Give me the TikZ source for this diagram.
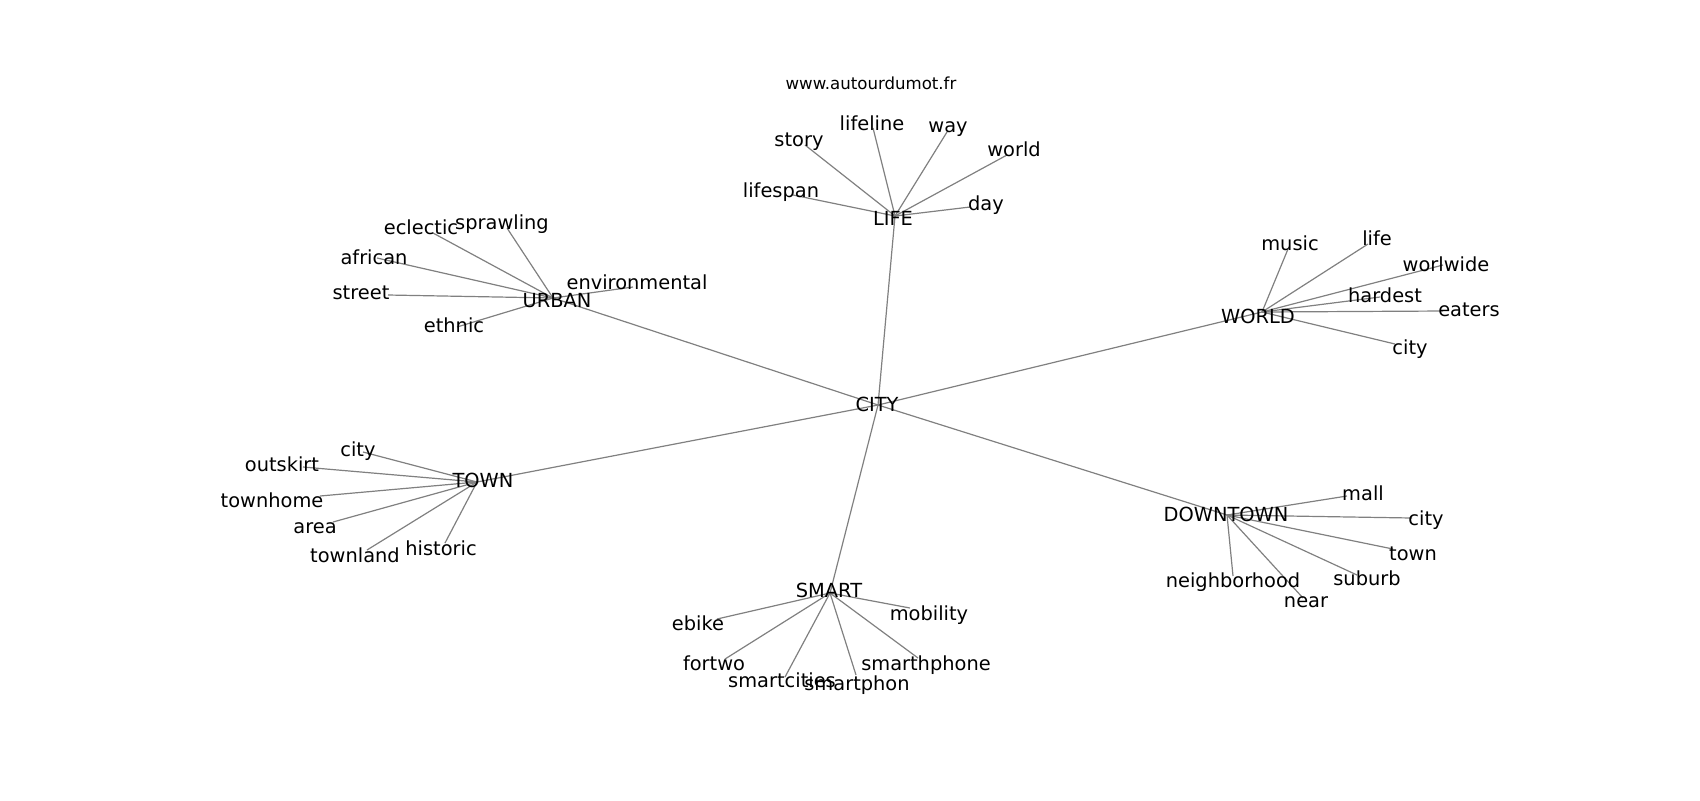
\documentclass[tikz,border=0pt]{standalone}
\usepackage{fontspec}
\setmainfont{DejaVu Sans}
\tikzset{
  link/.style={draw=black!50, line width=0.6pt},
  word/.style={inner sep=0pt, font=\fontsize{9.7}{11}\selectfont, text height=7.1pt, text depth=0pt},
  hub/.style={word},
  credit/.style={inner sep=0pt, font=\fontsize{8.3}{10}\selectfont, text height=6.1pt, text depth=0pt}
}
\begin{document}
\begin{tikzpicture}[x=0.5pt,y=0.5pt,yscale=-1,xscale=1]
  \useasboundingbox (0,0) rectangle (1700,800);

  %Hubs
  \coordinate (city) at (878,405);
  \coordinate (life) at (895,216);
  \coordinate (urban) at (553,298);
  \coordinate (world) at (1262,312);
  \coordinate (town) at (477,482);
  \coordinate (smart) at (830,593);
  \coordinate (downtown) at (1227,515);

  %Leaves of LIFE
  \coordinate (life-story) at (805,145);
  \coordinate (life-lifeline) at (873,128);
  \coordinate (life-way) at (947,132);
  \coordinate (life-world) at (1007,155);
  \coordinate (life-lifespan) at (793,195);
  \coordinate (life-day) at (970,207);
  %Leaves of URBAN
  \coordinate (urban-eclectic) at (433,233);
  \coordinate (urban-sprawling) at (507,228);
  \coordinate (urban-african) at (377,258);
  \coordinate (urban-street) at (388,295);
  \coordinate (urban-environmental) at (633,287);
  \coordinate (urban-ethnic) at (457,327);
  %Leaves of TOWN
  \coordinate (town-city) at (363,452);
  \coordinate (town-outskirt) at (303,467);
  \coordinate (town-townhome) at (320,496);
  \coordinate (town-area) at (333,522);
  \coordinate (town-townland) at (367,550);
  \coordinate (town-historic) at (445,543);
  %Leaves of SMART
  \coordinate (smart-ebike) at (717,619);
  \coordinate (smart-fortwo) at (725,659);
  \coordinate (smart-smartcities) at (785,677);
  \coordinate (smart-smartphon) at (856,675);
  \coordinate (smart-smarthphone) at (918,658);
  \coordinate (smart-mobility) at (910,608);
  %Leaves of DOWNTOWN
  \coordinate (downtown-mall) at (1347,496);
  \coordinate (downtown-city) at (1412,518);
  \coordinate (downtown-town) at (1393,549);
  \coordinate (downtown-suburb) at (1357,575);
  \coordinate (downtown-near) at (1303,598);
  \coordinate (downtown-neighborhood) at (1233,576);
  %Leaves of WORLD
  \coordinate (world-music) at (1288,249);
  \coordinate (world-life) at (1368,244);
  \coordinate (world-worlwide) at (1443,265);
  \coordinate (world-hardest) at (1380,297);
  \coordinate (world-eaters) at (1443,311);
  \coordinate (world-city) at (1395,344);

  %Straight Lines
  \foreach \h in {life,urban,world,town,smart,downtown}
    \draw[link] (city) -- (\h);
  \foreach \l in {story,lifeline,way,world,lifespan,day}
    \draw[link] (life) -- (life-\l);
  \foreach \l in {eclectic,sprawling,african,street,environmental,ethnic}
    \draw[link] (urban) -- (urban-\l);
  \foreach \l in {city,outskirt,townhome,area,townland,historic}
    \draw[link] (town) -- (town-\l);
  \foreach \l in {ebike,fortwo,smartcities,smartphon,smarthphone,mobility}
    \draw[link] (smart) -- (smart-\l);
  \foreach \l in {mall,city,town,suburb,near,neighborhood}
    \draw[link] (downtown) -- (downtown-\l);
  \foreach \l in {music,life,worlwide,hardest,eaters,city}
    \draw[link] (world) -- (world-\l);

  % Text Node
  \node[credit] (credit) at (871,83) {www.autourdumot.fr};
  % Hub Text
  \node[hub] (city-t) at (877,404) {CITY};
  \node[hub] (life-t) at (893,218) {LIFE};
  \node[hub] (urban-t) at (557,300) {URBAN};
  \node[hub] (world-t) at (1258,316) {WORLD};
  \node[hub] (town-t) at (483,480) {TOWN};
  \node[hub] (smart-t) at (829,590) {SMART};
  \node[hub] (downtown-t) at (1226,514) {DOWNTOWN};

  % Text Node
  \node[word] (life-story-t) at (799,139) {story};
  \node[word] (life-lifeline-t) at (872,123) {lifeline};
  \node[word] (life-way-t) at (948,125) {way};
  \node[word] (life-world-t) at (1014,149) {world};
  \node[word] (life-lifespan-t) at (781,190) {lifespan};
  \node[word] (life-day-t) at (986,203) {day};
  % Text Node
  \node[word] (urban-eclectic-t) at (421,227) {eclectic};
  \node[word] (urban-sprawling-t) at (502,222) {sprawling};
  \node[word] (urban-african-t) at (374,257) {african};
  \node[word] (urban-street-t) at (361,292) {street};
  \node[word] (urban-environmental-t) at (637,282) {environmental};
  \node[word] (urban-ethnic-t) at (454,325) {ethnic};
  % Text Node
  \node[word] (town-city-t) at (358,449) {city};
  \node[word] (town-outskirt-t) at (282,464) {outskirt};
  \node[word] (town-townhome-t) at (272,500) {townhome};
  \node[word] (town-area-t) at (315,526) {area};
  \node[word] (town-townland-t) at (355,555) {townland};
  \node[word] (town-historic-t) at (441,548) {historic};
  % Text Node
  \node[word] (smart-ebike-t) at (698,623) {ebike};
  \node[word] (smart-fortwo-t) at (714,663) {fortwo};
  \node[word] (smart-smartcities-t) at (782,680) {smartcities};
  \node[word] (smart-smartphon-t) at (857,683) {smartphon};
  \node[word] (smart-smarthphone-t) at (926,663) {smarthphone};
  \node[word] (smart-mobility-t) at (929,613) {mobility};
  % Text Node
  \node[word] (downtown-mall-t) at (1363,493) {mall};
  \node[word] (downtown-city-t) at (1426,518) {city};
  \node[word] (downtown-town-t) at (1413,553) {town};
  \node[word] (downtown-suburb-t) at (1367,578) {suburb};
  \node[word] (downtown-near-t) at (1306,600) {near};
  \node[word] (downtown-neighborhood-t) at (1233,580) {neighborhood};
  % Text Node
  \node[word] (world-music-t) at (1290,243) {music};
  \node[word] (world-life-t) at (1377,238) {life};
  \node[word] (world-worlwide-t) at (1446,264) {worlwide};
  \node[word] (world-hardest-t) at (1385,295) {hardest};
  \node[word] (world-eaters-t) at (1469,309) {eaters};
  \node[word] (world-city-t) at (1410,347) {city};
\end{tikzpicture}
\end{document}
